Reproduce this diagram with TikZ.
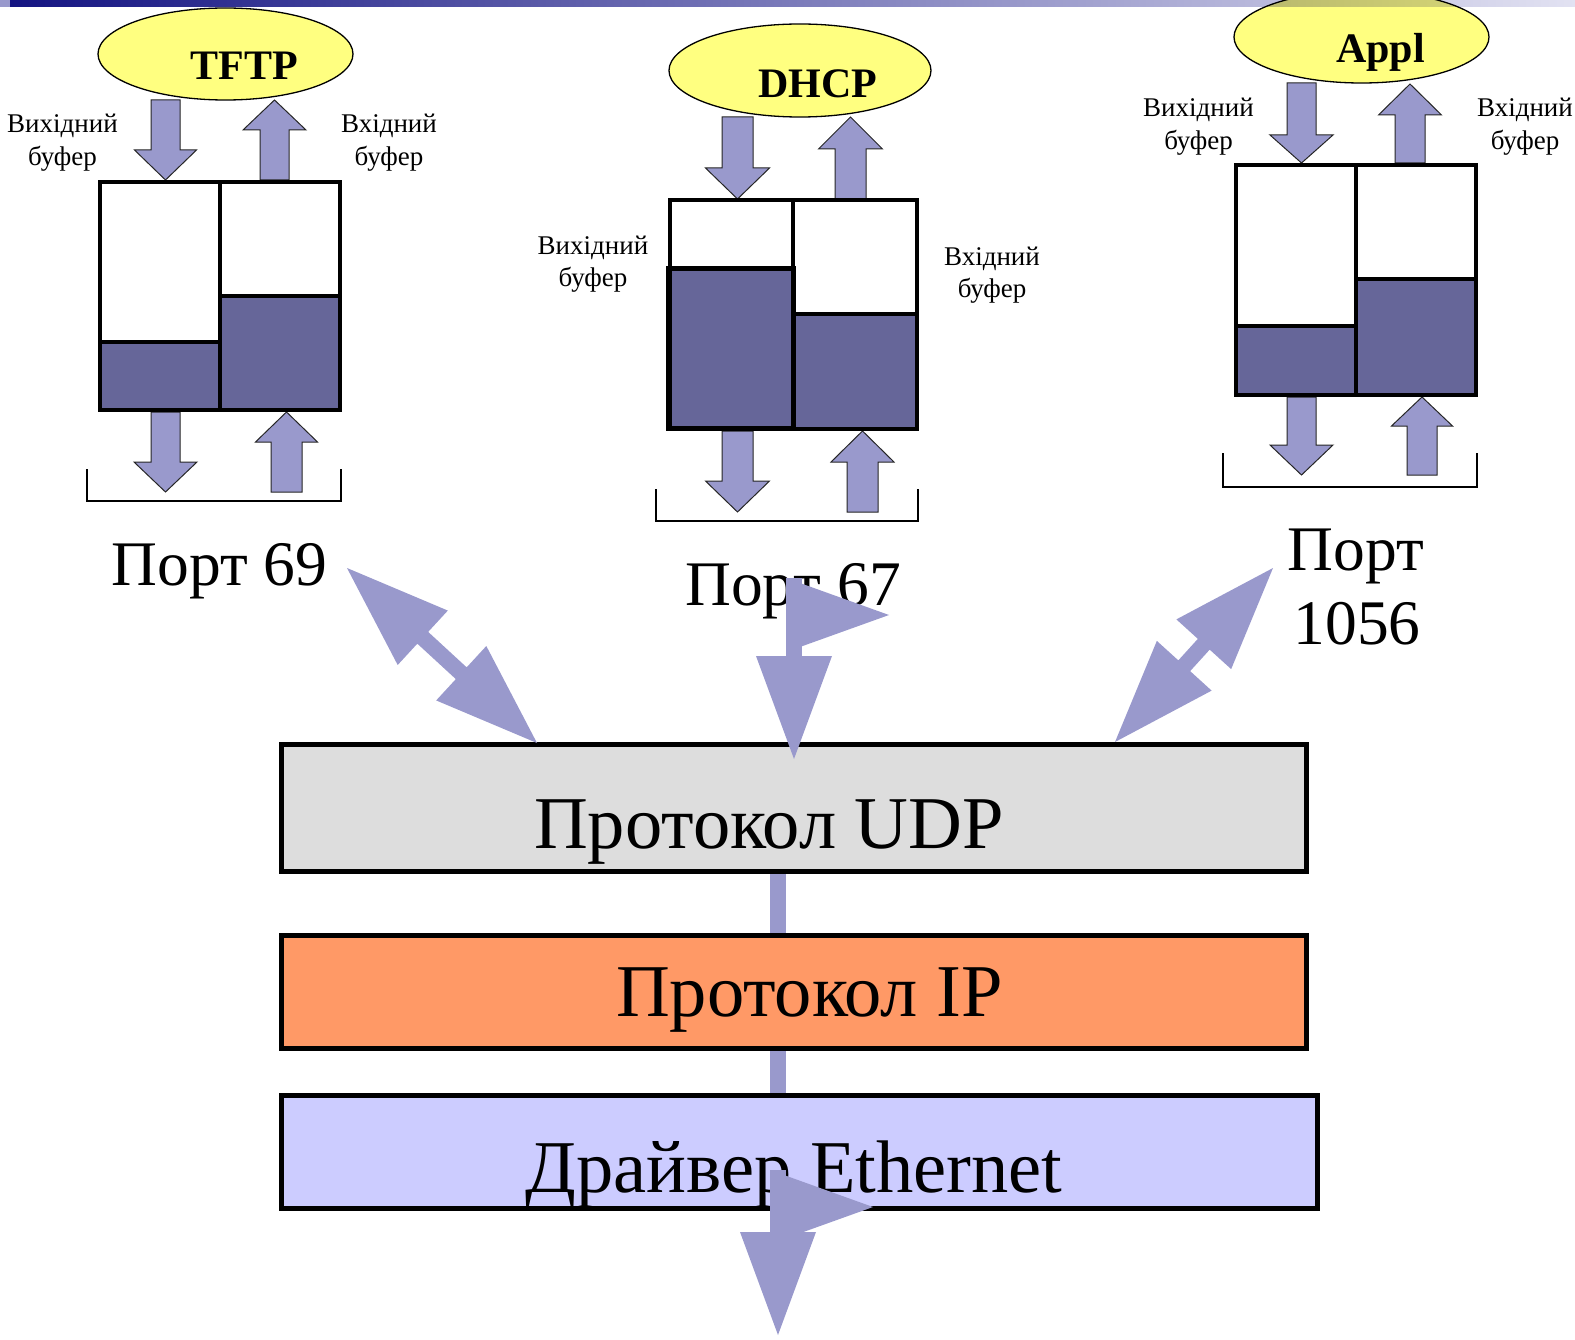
\documentclass[tikz,border=0pt]{standalone}
\usepackage{fontspec}
\setmainfont{Liberation Serif}
\usetikzlibrary{calc,shapes.geometric}

\definecolor{arrowfill}{HTML}{9999CC}
\definecolor{bufdark}{HTML}{666699}
\definecolor{appyellow}{HTML}{FFFF80}
\definecolor{udpgray}{HTML}{DDDDDD}
\definecolor{iporange}{HTML}{FF9966}
\definecolor{ethblue}{HTML}{CCCCFF}
\definecolor{barleft}{HTML}{141482}
\definecolor{barright}{HTML}{E2E2F2}

\tikzset{
  blockarrow/.style={fill=arrowfill, draw=black!85, line width=1pt, line join=miter},
  bigarrow/.style={fill=arrowfill},
  bufline/.style={draw=black, line width=3.5pt},
  app/.style={ellipse, draw=black, line width=1.3pt, fill=appyellow, inner sep=0pt},
  layer/.style={draw=black, line width=5pt, inner sep=0pt},
  small/.style={font=\fontsize{27}{32}\selectfont, anchor=base, inner sep=0pt},
  port/.style={font=\fontsize{63.5}{74}\selectfont, anchor=base, inner sep=0pt},
  apptitle/.style={font=\bfseries\fontsize{42}{50}\selectfont, anchor=base, inner sep=0pt},
  layertext/.style={font=\fontsize{74.5}{88}\selectfont, anchor=base, inner sep=0pt},
  bracket/.style={draw=black, line width=1.5pt},
  linkbar/.style={draw=arrowfill, line width=16pt},
}

% buffer pair: left x, divider x, right x, top y, bottom y, left level, right level
\newcommand\bufferbox[7]{%
  \fill[white] (#1,#4) rectangle (#3,#5);
  \fill[bufdark] (#1,#6) rectangle (#2,#5);
  \fill[bufdark] (#2,#7) rectangle (#3,#5);
  \draw[bufline] (#1,#6) -- (#2,#6) (#2,#7) -- (#3,#7) (#2,#4) -- (#2,#5);
  \draw[bufline] (#1,#4) rectangle (#3,#5);
}

% vertical block arrow: centre x, tail y, head base y, tip y, shaft half width, head half width
\newcommand\blockarrow[6]{%
  \draw[blockarrow] ({#1-#5},#2) -- ({#1+#5},#2) -- ({#1+#5},#3) -- ({#1+#6},#3)
    -- (#1,#4) -- ({#1-#6},#3) -- ({#1-#5},#3) -- cycle;
}

% double-headed wide arrow between two named points
\newcommand\dblarrow[2]{%
  \path coordinate (ma) at ($(#1)!103pt!(#2)$)
        coordinate (mb) at ($(#2)!103pt!(#1)$);
  \fill[bigarrow] (#1) -- ($(ma)!37pt!90:(#2)$) -- ($(ma)!8pt!90:(#2)$)
    -- ($(mb)!8pt!-90:(#1)$) -- ($(mb)!37pt!-90:(#1)$) -- (#2)
    -- ($(mb)!37pt!90:(#1)$) -- ($(mb)!8pt!90:(#1)$)
    -- ($(ma)!8pt!-90:(#2)$) -- ($(ma)!37pt!-90:(#2)$) -- cycle;
}

% downward arrow with a second head turned to the right at its top:
% shaft left x, shaft top y, down-head base y
\newcommand\flagarrow[3]{%
  \fill[bigarrow] (#1,#2) rectangle ({#1+16},#3);
  \fill[bigarrow] (#1,#2) -- ({#1+103},{#2+37}) -- (#1,{#2+74}) -- cycle;
  \fill[bigarrow] ({#1-30},#3) -- ({#1+46},#3) -- ({#1+8},{#3+103}) -- cycle;
}

\begin{document}
\begin{tikzpicture}[x=1pt, y=-1pt]
\useasboundingbox (0,0) rectangle (1575,1340);

% ---------- applications ----------
\node[app, minimum width=255pt, minimum height=92pt] (tftp) at (225.5,54) {};
\node[app, minimum width=262pt, minimum height=93pt] (dhcp) at (800,70.5) {};
\node[app, minimum width=255pt, minimum height=92pt] (appl) at (1361.5,37) {};
\node[apptitle] (tftptxt) at (244,80) {TFTP};
\node[apptitle] (dhcptxt) at (818,97.5) {DHCP};
\node[apptitle] (appltxt) at (1380.5,63) {Appl};

% title strip
\fill[arrowfill] (0,0) rectangle (10,7);
\begin{scope}[blend mode=multiply]
  \shade[left color=barleft, right color=barright] (10,0) rectangle (1575,7);
\end{scope}

% ---------- TFTP, port 69 ----------
\blockarrow{165.5}{100}{150}{180}{14.5}{31}
\blockarrow{274.5}{180}{130}{100}{14.5}{31.5}
\blockarrow{165.5}{412}{462}{492}{14.5}{31.5}
\blockarrow{286.5}{492}{442}{412}{15.5}{31}
\bufferbox{100}{220}{340}{182}{410}{342}{296}
\draw[bracket] (87,469) -- (87,501) -- (341,501) -- (341,469);
\node[small] (tftpout1) at (62.5,133) {Вихідний};
\node[small] (tftpout2) at (62.5,166) {буфер};
\node[small] (tftpin1) at (389,133) {Вхідний};
\node[small] (tftpin2) at (389,166) {буфер};
\node[port] (port69) at (219.5,585) {Порт 69};

% ---------- DHCP, port 67 ----------
\blockarrow{737.5}{117}{168}{199}{15.5}{32}
\blockarrow{850.5}{199}{149}{117}{15.5}{32}
\blockarrow{737.5}{431}{481}{512}{15.5}{32}
\blockarrow{862.5}{512}{462}{431}{15.5}{31.5}
\bufferbox{670}{793}{917}{200}{429}{268}{314}
\draw[draw=black, line width=5pt] (668.5,268.5) rectangle (793.5,428.5);
\draw[bracket] (656,489) -- (656,521) -- (918,521) -- (918,489);
\node[small] (dhcpout1) at (593,255) {Вихідний};
\node[small] (dhcpout2) at (593,287) {буфер};
\node[small] (dhcpin1) at (992,266) {Вхідний};
\node[small] (dhcpin2) at (992,298) {буфер};
\node[port] (port67) at (793,605) {Порт 67};

% ---------- Appl, port 1056 ----------
\blockarrow{1301.5}{83}{135}{163}{14.5}{31.5}
\blockarrow{1410}{163}{115}{84}{15}{31.5}
\blockarrow{1301.5}{397}{445}{475}{14.5}{31.5}
\blockarrow{1422}{475}{426}{397}{15}{30.5}
\bufferbox{1236}{1356}{1476}{165}{395}{326}{279}
\draw[bracket] (1223,453) -- (1223,487) -- (1477,487) -- (1477,453);
\node[small] (applout1) at (1198.5,117) {Вихідний};
\node[small] (applout2) at (1198.5,150) {буфер};
\node[small] (applin1) at (1525,117) {Вхідний};
\node[small] (applin2) at (1525,150) {буфер};
\node[port] (port1056a) at (1356,570) {Порт};
\node[port] (port1056b) at (1357,644) {1056};

% ---------- protocol stack ----------
\node[layer, fill=udpgray, minimum width=1025pt, minimum height=127pt] (udp) at (794,808) {};
\node[layer, fill=iporange, minimum width=1025pt, minimum height=113pt] (ip) at (794,992) {};
\node[layer, fill=ethblue, minimum width=1036pt, minimum height=113pt] (eth) at (799.5,1152) {};
\draw[linkbar] (udp.south -| 778,0) -- (ip.north -| 778,0);
\draw[linkbar] (ip.south -| 778,0) -- (eth.north -| 778,0);
\node[layertext] (udptxt) at (769,848) {Протокол UDP};
\node[layertext] (iptxt) at (809.5,1016) {Протокол IP};
\node[layertext] (ethtxt) at (794,1192) {Драйвер Ethernet};

% ---------- ports to UDP ----------
\coordinate (p69) at (347,568);
\coordinate (u69) at (537,743);
\coordinate (p1056) at (1273,568);
\coordinate (u1056) at (1115,742);
\dblarrow{p69}{u69}
\dblarrow{p1056}{u1056}

% port 67 arrow and the arrow below the Ethernet driver
\flagarrow{786}{578}{656}
\flagarrow{770}{1170}{1232}
\end{tikzpicture}
\end{document}
